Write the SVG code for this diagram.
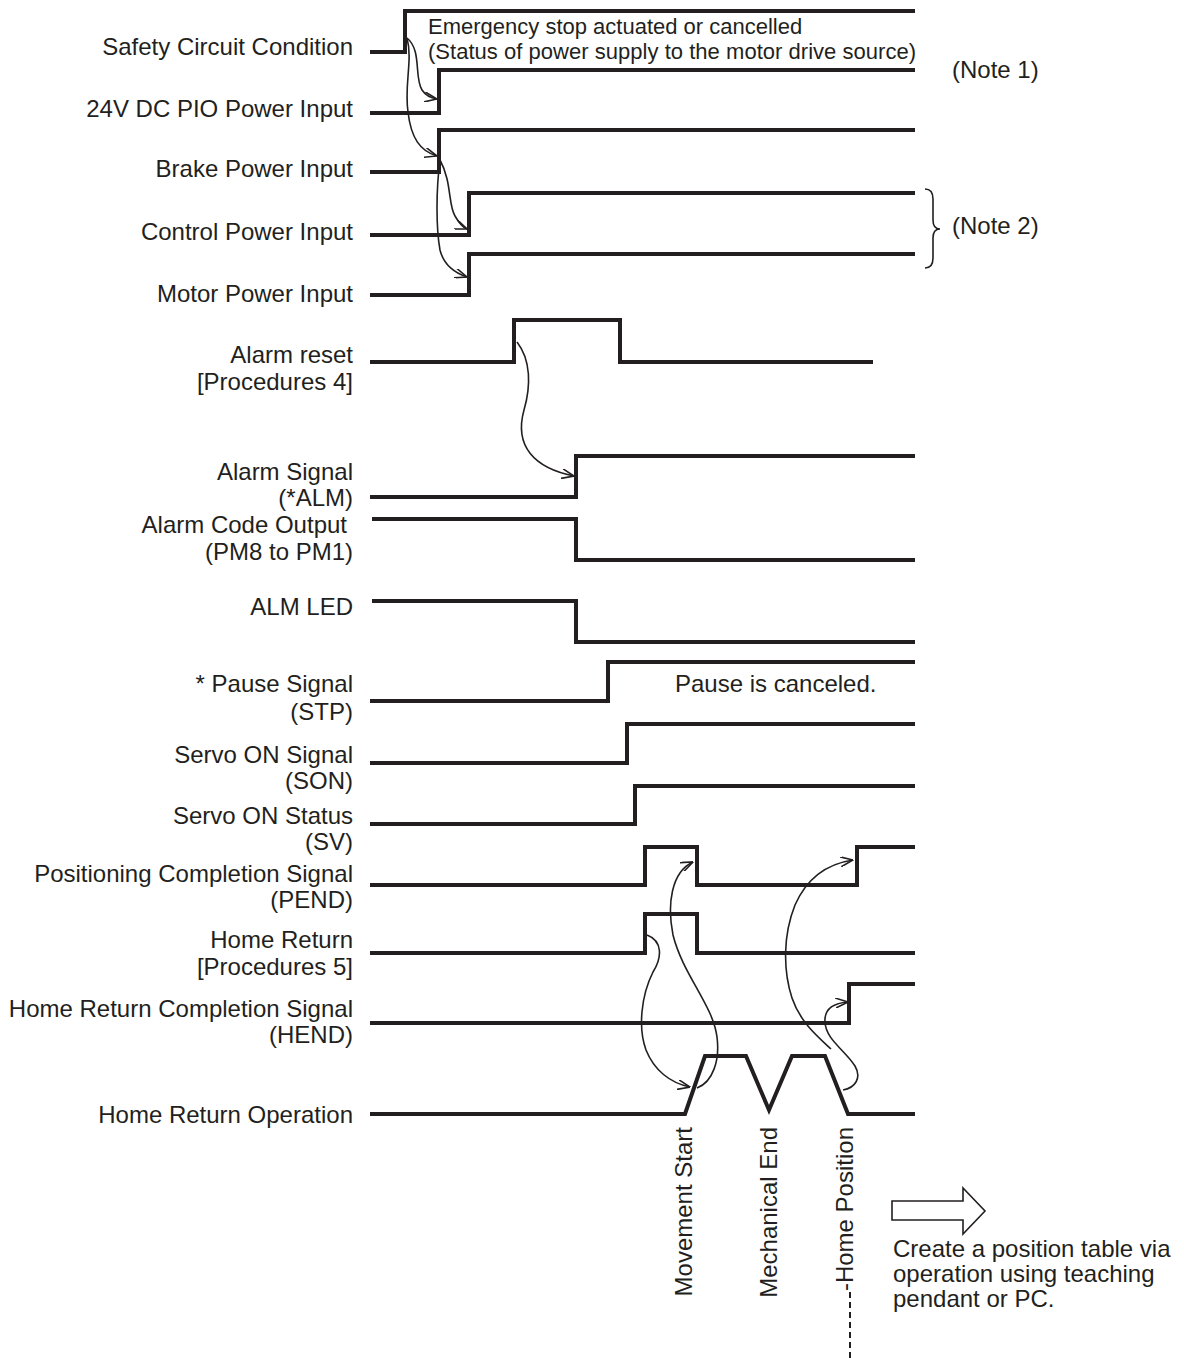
<svg xmlns="http://www.w3.org/2000/svg" width="1184" height="1358" viewBox="0 0 1184 1358">
<style>
text{font-family:"Liberation Sans",Arial,sans-serif;font-size:24px;fill:#231f20}
.lbl{text-anchor:end}
.w{fill:none;stroke:#231f20;stroke-width:4;stroke-linejoin:miter}
.c{fill:none;stroke:#231f20;stroke-width:1.6}
.note{font-size:22px}
</style>
<defs>
<marker id="ah" viewBox="0 0 13 10" refX="12.5" refY="5" markerWidth="13" markerHeight="10" orient="auto" markerUnits="userSpaceOnUse">
<path d="M0,0 L12.5,5 L0,10" fill="none" stroke="#231f20" stroke-width="1.6"/>
</marker>
</defs>
<rect width="1184" height="1358" fill="#ffffff"/>

<g id="safety">
<text class="lbl" x="353" y="55">Safety Circuit Condition</text>
<path class="w" d="M370,52 H405 V11 H915"/>
<text class="note" x="428" y="34">Emergency stop actuated or cancelled</text>
<text class="note" x="428" y="59" textLength="488">(Status of power supply to the motor drive source)</text>
</g>
<g id="pio24v">
<text class="lbl" x="353" y="117">24V DC PIO Power Input</text>
<path class="w" d="M370,113 H439 V70 H915"/>
<text x="952" y="78">(Note 1)</text>
</g>
<g id="brake">
<text class="lbl" x="353" y="177">Brake Power Input</text>
<path class="w" d="M370,172 H439 V130 H915"/>
</g>
<g id="control">
<text class="lbl" x="353" y="240">Control Power Input</text>
<path class="w" d="M370,235 H469 V193 H915"/>
</g>
<g id="motor">
<text class="lbl" x="353" y="302">Motor Power Input</text>
<path class="w" d="M370,295 H469 V254 H915"/>
</g>
<g id="note2">
<path class="c" d="M925,189 Q933,189 933,199 V220 Q933,229 940,229 Q933,229 933,238 V258 Q933,268 925,268"/>
<text x="952" y="234">(Note 2)</text>
</g>
<g id="alarmreset">
<text class="lbl" x="353" y="363">Alarm reset</text>
<text class="lbl" x="353" y="390">[Procedures 4]</text>
<path class="w" d="M370,362 H514 V320 H620 V362 H873"/>
</g>
<g id="alarmsignal">
<text class="lbl" x="353" y="480">Alarm Signal</text>
<text class="lbl" x="353" y="506">(*ALM)</text>
<path class="w" d="M370,497 H576 V456 H915"/>
</g>
<g id="alarmcode">
<text class="lbl" x="347" y="533">Alarm Code Output</text>
<text class="lbl" x="353" y="560">(PM8 to PM1)</text>
<path class="w" d="M372,519 H576 V560 H915"/>
</g>
<g id="almled">
<text class="lbl" x="353" y="615">ALM LED</text>
<path class="w" d="M372,601 H576 V642 H915"/>
</g>
<g id="pause">
<text class="lbl" x="353" y="692">* Pause Signal</text>
<text class="lbl" x="353" y="720">(STP)</text>
<path class="w" d="M370,701 H608 V662 H915"/>
<text x="675" y="692">Pause is canceled.</text>
</g>
<g id="servoon">
<text class="lbl" x="353" y="763">Servo ON Signal</text>
<text class="lbl" x="353" y="789">(SON)</text>
<path class="w" d="M370,763 H627 V724 H915"/>
</g>
<g id="servostatus">
<text class="lbl" x="353" y="824">Servo ON Status</text>
<text class="lbl" x="353" y="850">(SV)</text>
<path class="w" d="M370,824 H635 V786 H915"/>
</g>
<g id="pend">
<text class="lbl" x="353" y="882">Positioning Completion Signal</text>
<text class="lbl" x="353" y="908">(PEND)</text>
<path class="w" d="M370,885 H645 V847 H697 V885 H857 V847 H915"/>
</g>
<g id="homereturn">
<text class="lbl" x="353" y="948">Home Return</text>
<text class="lbl" x="353" y="975">[Procedures 5]</text>
<path class="w" d="M370,953 H645 V914 H697 V953 H915"/>
</g>
<g id="hend">
<text class="lbl" x="353" y="1017">Home Return Completion Signal</text>
<text class="lbl" x="353" y="1043">(HEND)</text>
<path class="w" d="M370,1023 H849 V984 H915"/>
</g>
<g id="homeop">
<text class="lbl" x="353" y="1123">Home Return Operation</text>
<path class="w" d="M370,1114 H685 L705,1056 H746 L769,1110 L792,1056 H825 L848,1114 H915"/>
<text transform="translate(692,1127) rotate(-90)" style="text-anchor:end">Movement Start</text>
<text transform="translate(777,1127) rotate(-90)" style="text-anchor:end">Mechanical End</text>
<text transform="translate(853,1127) rotate(-90)" style="text-anchor:end">-Home Position</text>
<path d="M850,1292 V1358" fill="none" stroke="#231f20" stroke-width="2" stroke-dasharray="6,4"/>
</g>
<g id="nextstep">
<path d="M892,1201 H963 V1188 L985,1211 L963,1234 V1220 H892 Z" fill="#ffffff" stroke="#231f20" stroke-width="1.6"/>
<text x="893" y="1257">Create a position table via</text>
<text x="893" y="1282">operation using teaching</text>
<text x="893" y="1307">pendant or PC.</text>
</g>

<g id="connectors">
<path class="c" marker-end="url(#ah)" d="M407,38 C422,50 414,78 422,90 C426,96 431,98 437,99"/>
<path class="c" marker-end="url(#ah)" d="M407,38 C413,60 404,85 408,112 C411,138 420,151 437,156"/>
<path class="c" marker-end="url(#ah)" d="M440,160 C452,182 448,205 455,216 C459,223 462,227 467,229"/>
<path class="c" marker-end="url(#ah)" d="M440,160 C436,190 436,228 440,250 C444,266 455,273 467,277"/>
<path class="c" marker-end="url(#ah)" d="M517,342 C531,360 531,386 524,410 C514,446 534,468 574,476"/>
<path class="c" marker-end="url(#ah)" d="M647,935 C663,941 662,958 653,972 C641,996 638,1028 646,1050 C654,1070 670,1083 690,1087"/>
<path class="c" marker-end="url(#ah)" d="M697,1088 C713,1082 720,1060 717,1037 C713,1005 683,975 673,935 C667,905 671,872 693,862"/>
<path class="c" marker-end="url(#ah)" d="M831,1049 C818,1037 800,1022 792,998 C783,970 783,935 795,905 C806,880 826,864 853,860"/>
<path class="c" marker-end="url(#ah)" d="M843,1090 C855,1088 862,1078 855,1066 C845,1050 826,1040 825,1022 C824,1008 835,1003 848,1002"/>
</g>
</svg>
